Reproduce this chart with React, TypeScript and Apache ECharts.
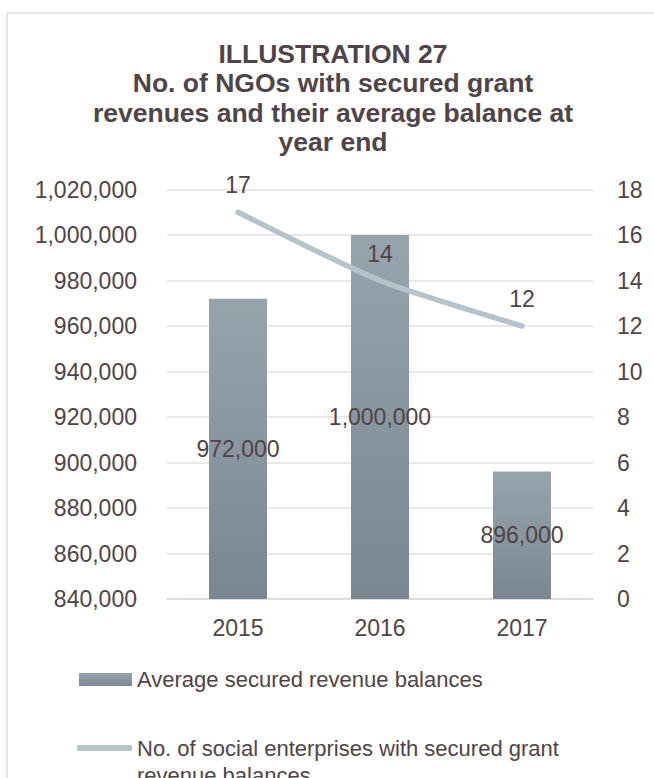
import React, { useEffect, useRef } from "react";
import * as echarts from "echarts";

const years = ["2015", "2016", "2017"];
const avgBalances = [972000, 1000000, 896000];
const ngoCounts = [17, 14, 12];
const barName = "Average secured revenue balances";
const lineName = "No. of social enterprises with secured grant revenue balances";
const lineLegendLines = ["No. of social enterprises with secured grant", "revenue balances"];
const titleLines = [
  "ILLUSTRATION 27",
  "No. of NGOs with secured grant",
  "revenues and their average balance at",
  "year end",
];

const FONT = "'Liberation Sans', Arial, sans-serif";
const TEXT = "#4F4449";
const FS = 23;

const fmt = (v: number) => v.toLocaleString("en-US");

export default function App() {
  const ref = useRef<HTMLDivElement>(null);
  useEffect(() => {
    if (!ref.current) return;
    const chart = echarts.init(ref.current, undefined, { renderer: "svg" });
    chart.setOption({
      animation: false,
      backgroundColor: "#ffffff",
      textStyle: { fontFamily: FONT, color: TEXT },
      graphic: [
        {
          type: "rect",
          shape: { x: 7, y: 13, width: 700, height: 820 },
          style: { fill: "none", stroke: "#E2DDDF", lineWidth: 1.5 },
          silent: true,
        },
        {
          type: "text",
          x: 333,
          y: 39,
          silent: true,
          style: {
            text: titleLines.join("\n"),
            textAlign: "center",
            textVerticalAlign: "top",
            fontFamily: FONT,
            fontSize: 26.5,
            fontWeight: "bold",
            fill: TEXT,
            lineHeight: 29.5,
          },
        },
      ],
      legend: [
        {
          data: [barName],
          left: 79,
          top: 666,
          padding: 0,
          itemWidth: 53,
          itemHeight: 13,
          icon: "rect",
          textStyle: { fontFamily: FONT, fontSize: 22, color: TEXT, lineHeight: 27 },
        },
        {
          data: [lineName],
          left: 77,
          top: 707.5,
          padding: 0,
          itemWidth: 55,
          itemHeight: 6,
          icon: "roundRect",
          formatter: () => [" ", ...lineLegendLines].join("\n"),
          textStyle: {
            fontFamily: FONT,
            fontSize: 22,
            color: TEXT,
            lineHeight: 27,
          },
        },
      ],
      grid: { left: 167, right: 61, top: 189.5, bottom: 179 },
      xAxis: {
        type: "category",
        data: years,
        axisTick: { show: false },
        axisLine: { show: true, lineStyle: { color: "#DCD7D9", width: 1.5 } },
        axisLabel: { fontFamily: FONT, fontSize: FS, color: TEXT, margin: 17 },
      },
      yAxis: [
        {
          type: "value",
          min: 840000,
          max: 1020000,
          interval: 20000,
          axisLine: { show: false },
          axisTick: { show: false },
          splitLine: { lineStyle: { color: "#E6E0E2", width: 1.5 } },
          axisLabel: {
            fontFamily: FONT,
            fontSize: FS,
            color: TEXT,
            margin: 30,
            formatter: (v: number) => fmt(v),
          },
        },
        {
          type: "value",
          min: 0,
          max: 18,
          interval: 2,
          position: "right",
          axisLine: { show: false },
          axisTick: { show: false },
          splitLine: { show: false },
          axisLabel: { fontFamily: FONT, fontSize: FS, color: TEXT, margin: 24 },
        },
      ],
      series: [
        {
          name: barName,
          type: "bar",
          data: avgBalances,
          barWidth: 58,
          itemStyle: {
            color: new echarts.graphic.LinearGradient(0, 0, 0, 1, [
              { offset: 0, color: "#98A4AC" },
              { offset: 1, color: "#7A8792" },
            ]),
          },
          label: {
            show: true,
            position: "inside",
            fontFamily: FONT,
            fontSize: FS,
            color: TEXT,
            formatter: (p: any) => fmt(p.value),
          },
        },
        {
          name: lineName,
          type: "line",
          yAxisIndex: 1,
          data: ngoCounts,
          smooth: 0.2,
          symbol: "circle",
          symbolSize: 1,
          itemStyle: { color: "#B7C3CA" },
          lineStyle: { color: "#B7C3CA", width: 5.5, cap: "round" },
          label: {
            show: true,
            position: "top",
            distance: 15,
            fontFamily: FONT,
            fontSize: FS,
            color: TEXT,
          },
        },
      ],
    });
    return () => chart.dispose();
  }, []);
  return (
    <div
      ref={ref}
      style={{ position: "fixed", left: 0, top: 0, width: 654, height: 778 }}
    />
  );
}
